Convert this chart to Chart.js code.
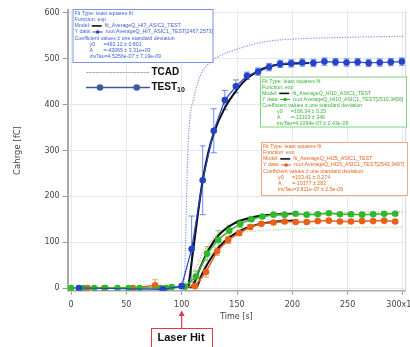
<!DOCTYPE html>
<html><head><meta charset="utf-8">
<script src="https://cdn.jsdelivr.net/npm/chart.js@4.4.1/dist/chart.umd.min.js"></script>
<style>
html,body{margin:0;padding:0;background:#fff;overflow:hidden;width:410px;height:347px}
#wrap{position:relative;width:440px;height:347px}
canvas{display:block}
</style></head>
<body><div id="wrap"><canvas id="c" width="440" height="347" style="width:440px;height:347px"></canvas></div>
<script>
// ---------- data ----------
const xTicks = [0, 50, 100, 150, 200, 250, 300];
const xTickLabels = ['0', '50', '100', '150', '200', '250', '300x10³'];
const yTicks = [0, 100, 200, 300, 400, 500, 600];

// TEST HI7 (blue)
const blueX   = [7, 83, 100, 109, 119, 129, 139, 149, 159, 169, 179, 189, 199, 209, 219, 229, 239, 249, 259, 269, 279, 289, 299];
const blueY   = [0, -3, 4, 85, 235, 343, 410, 440, 463, 472, 482, 489, 490, 492, 491, 494, 493, 492, 493, 491, 492, 493, 494];
const blueErr = [0, 0, 4, 72, 75, 48, 21, 14, 8, 8, 8, 8, 8, 8, 8, 8, 8, 8, 8, 8, 8, 8, 8];

// TEST HI10 (green)
const greenX   = [0, 11, 21, 31, 42, 52, 62, 81, 86, 91, 103, 113, 123, 133, 143, 153, 163, 173, 183, 193, 203, 213, 223, 233, 243, 253, 263, 273, 283, 293];
const greenY   = [0, 0, 0, 0, 0, 0, 0, 0, 0, 2, 3, 25, 75, 105, 125, 140, 150, 156, 160, 160, 162, 160, 161, 163, 161, 161, 160, 161, 162, 162];
const greenErr = [0, 0, 0, 0, 0, 0, 0, 0, 0, 0, 2, 12, 15, 20, 12, 8, 5, 4, 3, 3, 3, 3, 3, 3, 3, 3, 3, 3, 3, 3];

// TEST HI25 (orange)
const orangeX   = [15, 30, 56, 76, 86, 112, 122, 132, 142, 152, 162, 172, 183, 193, 203, 213, 223, 233, 243, 253, 263, 273, 283, 293];
const orangeY   = [0, 0, 0, 6, 0, 4, 35, 80, 105, 120, 133, 140, 143, 145, 144, 144, 146, 147, 145, 145, 146, 146, 147, 145];
const orangeErr = [0, 0, 0, 12, 0, 3, 11, 9, 8, 6, 5, 4, 3, 3, 3, 3, 3, 3, 3, 3, 3, 3, 3, 3];

// exponential fits (black)
const fitBlueX = [106, 110, 114, 119, 124, 129, 139, 150, 159, 169, 179, 190, 200, 215];
const fitBlueY = [0, 75, 150, 235, 295, 338, 393, 433, 457, 473, 483, 488, 490, 491];
const fitGreenX = [107.6, 110.6, 116, 122.7, 133, 146.7, 161.8, 177, 190, 204];
const fitGreenY = [0, 8, 40, 76, 114, 140, 153, 159, 161, 162];
const fitOrangeX = [112, 113.6, 118, 122.7, 134.7, 149.8, 167.9, 186, 204];
const fitOrangeY = [0, 2, 28, 50, 92, 121, 138, 145, 147];

// TCAD simulations (dotted)
const tcadBlueX = [0, 100, 101.5, 103, 104, 105, 106, 107.6, 110.6, 116.6, 125.7, 137.7, 149.8, 164.8, 180, 200, 250, 300];
const tcadBlueY = [0, 0, 5, 50, 150, 250, 320, 375, 411, 462, 492, 510, 521, 532, 539, 543, 547, 549];
const tcadGreenX = [100, 105, 112, 120, 127, 134.7, 143, 152.8, 165, 183, 228, 300];
const tcadGreenY = [0, 0, 25, 55, 75, 98, 110, 120, 124, 127, 130.6, 133];
const tcadOrangeX = [100, 106, 112, 120, 130, 140, 150, 165, 185, 220, 300];
const tcadOrangeY = [0, 0, 40, 80, 112, 132, 145, 155, 161, 164, 166];

const pts = (xs, ys) => xs.map((x, i) => ({x: x, y: ys[i]}));

function dataSet(xs, ys, errs, color, errColor, lw) {
  return {data: pts(xs, ys), errors: errs, errColor: errColor, showLine: true,
    borderColor: color, backgroundColor: color, borderWidth: lw,
    pointRadius: 3.3, pointBorderWidth: 0, pointBackgroundColor: color, tension: 0};
}
function fitSet(xs, ys) {
  return {data: pts(xs, ys), showLine: true, borderColor: '#111118', borderWidth: 2.1,
    pointRadius: 0, cubicInterpolationMode: 'monotone'};
}
function tcadSet(xs, ys, color) {
  return {data: pts(xs, ys), showLine: true, borderColor: color, borderWidth: 1.2,
    borderDash: [1.2, 1.4], pointRadius: 0, cubicInterpolationMode: 'monotone'};
}

const errPlugin = {
  id: 'errbars',
  beforeDatasetsDraw(chart) {
    const ctx = chart.ctx, ys = chart.scales.y, a = chart.chartArea;
    ctx.save();
    ctx.beginPath(); ctx.rect(a.left, a.top, a.right - a.left, a.bottom - a.top); ctx.clip();
    chart.data.datasets.forEach((ds, i) => {
      if (!ds.errors) return;
      const meta = chart.getDatasetMeta(i);
      ctx.strokeStyle = ds.errColor; ctx.lineWidth = 1;
      meta.data.forEach((p, j) => {
        const e = ds.errors[j]; if (!e) return;
        const v = ds.data[j].y;
        const y1 = ys.getPixelForValue(v + e), y2 = ys.getPixelForValue(v - e);
        ctx.beginPath();
        ctx.moveTo(p.x, y1); ctx.lineTo(p.x, y2);
        ctx.moveTo(p.x - 3, y1); ctx.lineTo(p.x + 3, y1);
        ctx.moveTo(p.x - 3, y2); ctx.lineTo(p.x + 3, y2);
        ctx.stroke();
      });
    });
    ctx.restore();
  }
};

function fitBox(ctx, bx, by, bw, bh, border, tc, mc, model, ydata, c1, c2, c3) {
  ctx.save();
  ctx.fillStyle = 'rgba(255,255,255,0.95)';
  ctx.fillRect(bx, by, bw, bh);
  ctx.strokeStyle = border; ctx.lineWidth = 1;
  ctx.strokeRect(bx + 0.5, by + 0.5, bw, bh);
  ctx.font = '5.25px "Liberation Sans", Arial, sans-serif';
  ctx.textBaseline = 'middle'; ctx.fillStyle = tc;
  const lx = bx + 2, sp = 6.1; let ly = by + 4.7;
  ctx.fillText('Fit Type: least squares fit', lx, ly); ly += sp;
  ctx.fillText('Function: exp', lx, ly); ly += sp;
  let w = ctx.measureText('Model: ').width;
  ctx.fillText('Model:', lx, ly);
  ctx.strokeStyle = '#111'; ctx.lineWidth = 1.6;
  ctx.beginPath(); ctx.moveTo(lx + w, ly); ctx.lineTo(lx + w + 10, ly); ctx.stroke();
  ctx.fillText(model, lx + w + 13, ly); ly += sp;
  w = ctx.measureText('Y data: ').width;
  ctx.fillText('Y data:', lx, ly);
  ctx.strokeStyle = mc; ctx.fillStyle = mc; ctx.lineWidth = 1;
  ctx.beginPath(); ctx.moveTo(lx + w, ly); ctx.lineTo(lx + w + 10, ly); ctx.stroke();
  ctx.beginPath(); ctx.arc(lx + w + 5, ly, 1.8, 0, Math.PI * 2); ctx.fill();
  ctx.fillStyle = tc;
  ctx.fillText(ydata, lx + w + 13, ly); ly += sp;
  ctx.fillText('Coefficient values ± one standard deviation', lx, ly); ly += sp;
  ctx.fillText('y0', lx + 15, ly); ctx.fillText(c1, lx + 29, ly); ly += sp;
  ctx.fillText('A', lx + 15, ly); ctx.fillText(c2, lx + 29, ly); ly += sp;
  ctx.fillText('invTau' + c3, lx + 15, ly);
  ctx.restore();
}

const annoPlugin = {
  id: 'anno',
  afterDraw(chart) {
    const ctx = chart.ctx, a = chart.chartArea, xs = chart.scales.x;
    ctx.save();
    // right frame line
    ctx.strokeStyle = '#cfd2dc'; ctx.lineWidth = 1;
    ctx.beginPath(); ctx.moveTo(a.right + 0.5, a.top); ctx.lineTo(a.right + 0.5, a.bottom); ctx.stroke();

    fitBox(ctx, 72.5, 9, 140, 53, '#7d95e6', '#3c5fd0', '#2443c8',
      'fit_AverageQ_HI7_ASIC1_TEST', 'root:AverageQ_HI7_ASIC1_TEST[2467,2573]',
      '=492.12 ± 0.801', '=-43065 ± 3.31e+03', '=4.5256e-07 ± 7.19e-09');
    fitBox(ctx, 260, 76.5, 146, 50, '#7fd47f', '#39b039', '#2eb82e',
      'fit_AverageQ_HI10_ASIC1_TEST', 'root:AverageQ_HI10_ASIC1_TEST[2510,3456]',
      '=166.34 ± 0.25', '=-13103 ± 346', '=4.1094e-07 ± 2.43e-09');
    fitBox(ctx, 261, 142, 146, 53, '#f2a882', '#e2661e', '#e8601c',
      'fit_AverageQ_HI25_ASIC1_TEST', 'root:AverageQ_HI25_ASIC1_TEST[2543,3487]',
      '=153.41 ± 0.274', '=-10177 ± 283', '=3.811e-07 ± 2.5e-09');

    // TCAD / TEST10 legend
    ctx.strokeStyle = '#9a9ca6'; ctx.lineWidth = 1.2; ctx.setLineDash([2, 1]);
    ctx.beginPath(); ctx.moveTo(86.5, 72.5); ctx.lineTo(150, 72.5); ctx.stroke();
    ctx.setLineDash([]);
    ctx.strokeStyle = '#3d5b9c'; ctx.lineWidth = 1.4;
    ctx.beginPath(); ctx.moveTo(86, 87.5); ctx.lineTo(150, 87.5); ctx.stroke();
    ctx.fillStyle = '#3d5b9c';
    [100, 136.7].forEach(x => { ctx.beginPath(); ctx.arc(x, 87.5, 3.3, 0, Math.PI * 2); ctx.fill(); });
    ctx.fillStyle = '#111'; ctx.textBaseline = 'middle';
    ctx.font = 'bold 10px "Liberation Sans", Arial, sans-serif';
    ctx.fillText('TCAD', 151.5, 72.5);
    ctx.fillText('TEST', 151.5, 87);
    const tw = ctx.measureText('TEST').width;
    ctx.font = 'bold 7px "Liberation Sans", Arial, sans-serif';
    ctx.fillText('10', 151.5 + tw, 90);

    // Laser Hit annotation
    const hx = xs.getPixelForValue(100);
    ctx.strokeStyle = '#e23a48'; ctx.fillStyle = '#e23a48'; ctx.lineWidth = 1.2;
    ctx.beginPath(); ctx.moveTo(hx, 328); ctx.lineTo(hx, 315); ctx.stroke();
    ctx.beginPath(); ctx.moveTo(hx, 310.5); ctx.lineTo(hx - 3, 316); ctx.lineTo(hx + 3, 316); ctx.closePath(); ctx.fill();
    ctx.lineWidth = 1;
    ctx.strokeRect(151.5, 328.5, 61, 22);
    ctx.fillStyle = '#111';
    ctx.font = 'bold 11px "Liberation Sans", Arial, sans-serif';
    ctx.fillText('Laser Hit', 157.5, 337.5);
    ctx.restore();
  }
};

const tickFont = {family: '"DejaVu Sans", Verdana, sans-serif', size: 8};

new Chart(document.getElementById('c'), {
  type: 'scatter',
  data: {datasets: [
    dataSet(blueX, blueY, blueErr, '#2443c8', '#6f8ae2', 1.2),
    dataSet(greenX, greenY, greenErr, '#2eb82e', '#78cc55', 1.5),
    dataSet(orangeX, orangeY, orangeErr, '#e8601c', '#f0a264', 1.5),
    fitSet(fitBlueX, fitBlueY),
    fitSet(fitGreenX, fitGreenY),
    fitSet(fitOrangeX, fitOrangeY),
    tcadSet(tcadBlueX, tcadBlueY, '#7b96ee'),
    tcadSet(tcadGreenX, tcadGreenY, '#9edf8c'),
    tcadSet(tcadOrangeX, tcadOrangeY, '#ee9c86')
  ]},
  options: {
    responsive: false, animation: false, devicePixelRatio: 1,
    layout: {padding: {top: 10.25, right: 34.8, bottom: 25.2, left: 0}},
    plugins: {legend: {display: false}, tooltip: {enabled: false}},
    scales: {
      x: {type: 'linear', min: -3, max: 302,
        afterBuildTicks: s => { s.ticks = xTicks.map(v => ({value: v})); },
        afterFit: s => { s.height = 31.05; },
        ticks: {callback: v => xTickLabels[xTicks.indexOf(v)], font: tickFont, color: '#444',
          padding: 5, maxRotation: 0, autoSkip: false},
        grid: {color: '#e4e7f6', lineWidth: 1, tickLength: 4, tickColor: '#999'},
        border: {color: '#a8a8a8', width: 1.5},
        title: {display: true, text: 'Time [s]', font: tickFont, color: '#444', padding: {top: 0, bottom: 0}}
      },
      y: {type: 'linear', min: -6, max: 606,
        afterBuildTicks: s => { s.ticks = yTicks.map(v => ({value: v})); },
        afterFit: s => { s.width = 67.7; },
        ticks: {font: tickFont, color: '#444', padding: 3},
        grid: {color: '#e4e7f6', lineWidth: 1, tickLength: 5, tickColor: '#999'},
        border: {color: '#a8a8a8', width: 2},
        title: {display: true, text: 'Cahrge [fC]', font: {family: '"DejaVu Sans", Verdana, sans-serif', size: 8.5},
          color: '#444', padding: {top: 13, bottom: 0}}
      }
    }
  },
  plugins: [errPlugin, annoPlugin]
});
</script>
</body></html>
